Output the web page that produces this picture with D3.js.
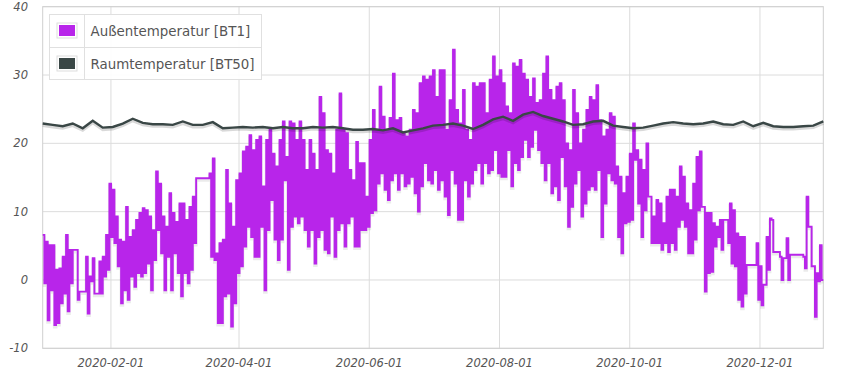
<!DOCTYPE html>
<html>
<head>
<meta charset="utf-8">
<script src="https://cdn.jsdelivr.net/npm/d3@7"></script>
<style>
  body { margin: 0; background: #fff; }
  svg { font-family: "DejaVu Sans", Verdana, sans-serif; }
</style>
</head>
<body>
<div id="chart"></div>
<script>
// Readings, one high and one low per sample interval

var seriesNames = ["Außentemperatur [BT1]", "Raumtemperatur [BT50]"];
var seriesColors = ["#b825ea", "#3a4746"];

var sampleStart = new Date(2019, 11, 31, 1);
var sampleHours = 37.5;      // outdoor samples
var roomEvery = 3;           // room temp kept every 3rd sample

var outHi = [
  6.6, 5.6, 5.1, 5.1, 1.5, 1.7, 3.4, 6.6, 4.4, 4.4, 4.4, -1.7, -1.7, 3.4, 0.5, 3.2, -2, 2.7, 3.4, 6.6,
  14.1, 13.2, 9.3, 5.9, 5.6, 10.7, 6.3, 7.3, 8.8, 9.8, 10.5, 10.2, 9.3, 7.3, 15.9, 14.1, 9.3, 7.8,
  12.7, 9.8, 8.5, 11.2, 11.2, 8.8, 10.7, 12.2, 14.9, 14.9, 14.9, 14.9, 15.6, 17.8, 3.9, 5.4, 5.9, 16.1,
  11.2, 7.8, 14.6, 15.6, 18.8, 19.5, 21.2, 19.0, 20.5, 21.0, 13.7, 20.5, 22.0, 18.5, 16.6, 20.5, 23.2,
  18.0, 23.2, 22.9, 20.5,
  23.2, 20.5, 16.1, 20.5, 18.5, 16.1, 26.8, 24.4, 19.0, 18.5, 15.6, 22.0, 27.3, 22.0, 21.5, 16.1, 14.6,
  20.2, 17.1, 17.1, 12.2, 20.5, 24.9, 22.0, 28.3, 23.9, 22.0, 23.7, 30.2, 23.4, 23.7, 21.5, 21.0, 22.0,
  24.9, 24.4, 28.8, 29.8, 29.3,
  29.8, 30.7, 26.8, 30.7, 30.7, 22.0, 26.3, 33.7, 24.9, 22.9, 27.8, 22.0, 20.5, 28.8, 28.3, 28.8, 28.8,
  24.4, 29.3, 32.7, 29.8, 30.7, 28.8, 25.4, 24.4, 31.7, 31.2, 32.2, 30.2, 29.3, 26.8, 29.5, 25.9, 26.3,
  30.2, 32.7, 27.8, 26.3, 28.3,
  28.8, 26.3, 20.0, 19.0, 27.8, 24.4, 20.0, 22.0, 24.9, 26.8, 26.3, 28.5, 23.4, 21.0, 22.0, 24.4, 23.9,
  16.6, 15.1, 12.7, 15.1, 18.5, 22.9, 19.0, 17.6, 16.1, 20.0, 12.2, 9.3, 11.7, 11.2, 8.3, 12.2, 13.2,
  13.2, 12.2, 16.6, 15.1, 11.2,
  10.2, 14.1, 18.0, 18.8, 10.7, 9.8, 9.8, 8.3, 7.8, 8.8, 8.8, 8.8, 11.2, 10.2, 6.8, 6.3, 6.3, 2.2, 2.2,
  2.2, 5.4, 2.0, -0.7, 6.3, 9.0, 4.1, 4.1, 3.4, 3.2, 6.1, 3.7, 3.7, 3.7, 3.7, 3.4, 12.2, 7.8, 2.0, 1.0, 5.1
];

var outLo = [
  -0.5, -5.9, -1.5, -6.6, -6.3, -3.4, -2.0, -4.6, -0.5, 4.4, -2.9, -1.7, -1.7, -4.9, -0.2, -2.0, -2.0,
  -2.0, 0.5, 1.5, 6.3, 5.4, 2.0, -3.4, -1.5, -2.9, 0.5, -1.0, 1.0, 0.5, 1.0, 2.4, -1.5, 2.9, 7.3, 3.9,
  -1.5, 3.4,
  -1.5, 3.9, 1.0, -2.4, 1.0, -0.5, 1.5, 5.4, 14.9, 14.9, 14.9, 14.9, 3.4, 2.9, -6.3, -6.3, -2.4, -2.0,
  -6.8, -3.4, 1.0, 2.0, 4.9, 7.8, 6.3, 3.4, 3.4, 7.8, -1.5, 7.3, 11.7, 5.9, 2.9, 5.9, 14.6, 1.5, 7.8,
  9.3, 8.3,
  9.3, 7.3, 4.9, 7.3, 2.4, 6.3, 7.3, 4.4, 3.9, 9.3, 3.4, 7.3, 8.3, 4.9, 8.3, 9.3, 4.9, 4.9, 7.3, 7.3,
  7.8, 9.8, 10.2, 14.1, 15.6, 13.2, 11.7, 14.6, 15.6, 13.2, 15.6, 13.7, 14.1, 15.1, 12.7, 10.0, 13.7,
  17.1, 14.6,
  14.1, 16.1, 13.2, 14.6, 12.2, 9.5, 16.1, 14.1, 8.8, 8.8, 14.6, 12.2, 14.1, 16.1, 17.1, 14.1, 17.1,
  15.6, 16.1, 19.0, 15.6, 15.1, 15.1, 19.0, 13.7, 17.1, 16.1, 18.0, 20.5, 18.0, 19.5, 22.0, 19.0, 17.1,
  14.6, 17.1, 12.7, 13.7, 11.7,
  18.0, 13.7, 7.8, 10.7, 14.1, 16.1, 9.3, 11.2, 13.2, 13.7, 13.2, 16.1, 6.3, 11.2, 15.6, 14.6, 14.1,
  6.3, 3.9, 8.3, 8.5, 8.8, 17.6, 11.2, 6.3, 10.2, 12.2, 5.4, 5.4, 5.4, 4.4, 5.4, 4.1, 5.4, 4.4, 7.8,
  8.8, 7.8, 3.9,
  3.9, 5.9, 10.2, 10.7, -1.7, 1.0, 1.2, 4.9, 6.3, 4.4, 8.8, 5.4, 2.4, 2.0, -2.9, -3.9, -2.0, 2.2, 2.2,
  2.2, -2.9, -3.7, -0.7, 1.5, 8.8, 4.1, 4.1, 0.0, 3.2, 0.0, 3.7, 3.7, 3.7, 3.7, 1.7, 7.8, 2.0, -5.4,
  -0.2, 0.0
];

var roomTemp = [
  22.9, 22.7, 22.5, 22.9, 22.2, 23.3, 22.3, 22.4, 22.9, 23.6, 23.0, 22.8, 22.8,
  22.7, 23.2, 22.7, 22.7, 23.1, 22.2, 22.3, 22.4, 22.3, 22.4, 22.2, 22.4, 22.2,
  22.2, 22.4, 22.3, 22.4, 22.2, 22.0, 22.0, 22.1, 21.9, 22.2, 21.6, 21.9, 22.2,
  22.6, 22.7, 22.9, 22.6, 22.1, 22.7, 23.5, 23.9, 23.3, 24.2, 24.6, 24.0, 23.6,
  23.2, 22.7, 22.8, 23.2, 23.3, 22.6, 22.4, 22.2, 22.3, 22.6, 22.9, 23.1, 22.9,
  22.8, 22.9, 23.2, 22.8, 22.7, 23.2, 22.5, 23.0, 22.5, 22.4, 22.4, 22.5, 22.6, 23.2
];

var xTicks = ["2020-02-01", "2020-04-01", "2020-06-01", "2020-08-01", "2020-10-01", "2020-12-01"];
var yTicks = [-10, 0, 10, 20, 30, 40];

// Layout

var width = 850, height = 375;
var plotLeft = 42.7, plotRight = 823.3, plotTop = 6.7, plotBottom = 348.3;

var svg = d3.select("#chart").append("svg")
    .attr("width", width)
    .attr("height", height);

var hour = 3600 * 1000;
var tAt = function(i) { return new Date(sampleStart.getTime() + i * sampleHours * hour); };

var x = d3.scaleTime()
    .domain([sampleStart, tAt(outHi.length)])
    .range([plotLeft, plotRight]);

var y = d3.scaleLinear()
    .domain([-10, 40])
    .range([plotBottom, plotTop]);

var parse = d3.timeParse("%Y-%m-%d");

// Grid

svg.append("g").selectAll("line").data(yTicks).enter().append("line")
    .attr("x1", plotLeft).attr("x2", plotRight)
    .attr("y1", function(d) { return y(d); }).attr("y2", function(d) { return y(d); })
    .style("stroke", "#dcdcdc");

svg.append("g").selectAll("line").data(xTicks).enter().append("line")
    .attr("x1", function(d) { return x(parse(d)); }).attr("x2", function(d) { return x(parse(d)); })
    .attr("y1", plotTop).attr("y2", plotBottom)
    .style("stroke", "#dcdcdc");

svg.append("rect")
    .attr("x", plotLeft).attr("y", plotTop)
    .attr("width", plotRight - plotLeft).attr("height", plotBottom - plotTop)
    .style("fill", "none").style("stroke", "#cfcfcf");

// Axis labels

svg.append("g").selectAll("text").data(yTicks).enter().append("text")
    .attr("x", 28).attr("y", function(d) { return y(d) + 4; })
    .attr("text-anchor", "end")
    .style("font-size", "11.5px").style("font-style", "italic").style("fill", "#555")
    .text(function(d) { return d; });

svg.append("g").selectAll("text").data(xTicks).enter().append("text")
    .attr("x", function(d) { return x(parse(d)); }).attr("y", 367)
    .attr("text-anchor", "middle")
    .style("font-size", "11.5px").style("font-style", "italic").style("fill", "#555")
    .text(function(d) { return d; });

// Series

var outPoints = [];
outHi.forEach(function(v, i) {
  outPoints.push([tAt(i), v]);
  outPoints.push([tAt(i + 0.5), outLo[i]]);
});
outPoints.push([tAt(outHi.length), outLo[outLo.length - 1]]);

var roomPoints = roomTemp.map(function(v, i) { return [tAt(i * roomEvery), v]; });

var stepLine = d3.line()
    .curve(d3.curveStepAfter)
    .x(function(d) { return x(d[0]); })
    .y(function(d) { return y(d[1]); });

var plainLine = d3.line()
    .x(function(d) { return x(d[0]); })
    .y(function(d) { return y(d[1]); });

var plot = svg.append("g");

plot.append("path")		// shadow
    .attr("d", stepLine(outPoints))
    .attr("transform", "translate(0,2)")
    .style("fill", "none").style("stroke", "rgba(0,0,0,0.08)").style("stroke-width", 3);

plot.append("path")
    .attr("d", stepLine(outPoints))
    .style("fill", "none").style("stroke", seriesColors[0]).style("stroke-width", 1.9);

plot.append("path")
    .attr("d", plainLine(roomPoints))
    .attr("transform", "translate(0,2)")
    .style("fill", "none").style("stroke", "rgba(0,0,0,0.15)").style("stroke-width", 3);

plot.append("path")
    .attr("d", plainLine(roomPoints))
    .style("fill", "none").style("stroke", seriesColors[1]).style("stroke-width", 2.4);

// Legend

var legend = svg.append("g").attr("transform", "translate(49.5,14.5)");

legend.append("rect")
    .attr("width", 212).attr("height", 65)
    .style("fill", "rgba(255,255,255,0.92)").style("stroke", "#e0e0e0");

legend.append("line")
    .attr("x1", 0).attr("x2", 212).attr("y1", 33).attr("y2", 33)
    .style("stroke", "#e0e0e0");

legend.append("line")
    .attr("x1", 35).attr("x2", 35).attr("y1", 0).attr("y2", 65)
    .style("stroke", "#e0e0e0");

seriesNames.forEach(function(name, i) {
  var row = legend.append("g").attr("transform", "translate(0," + (i * 33) + ")");
  row.append("rect")
      .attr("x", 7.5).attr("y", 8.5).attr("width", 20).attr("height", 15)
      .style("fill", "#fff").style("stroke", "#ddd");
  row.append("rect")
      .attr("x", 9.5).attr("y", 10.5).attr("width", 16).attr("height", 11)
      .style("fill", seriesColors[i]);
  row.append("text")
      .attr("x", 41).attr("y", 21)
      .style("font-size", "13.4px").style("fill", "#555")
      .text(name);
});
</script>
</body>
</html>
